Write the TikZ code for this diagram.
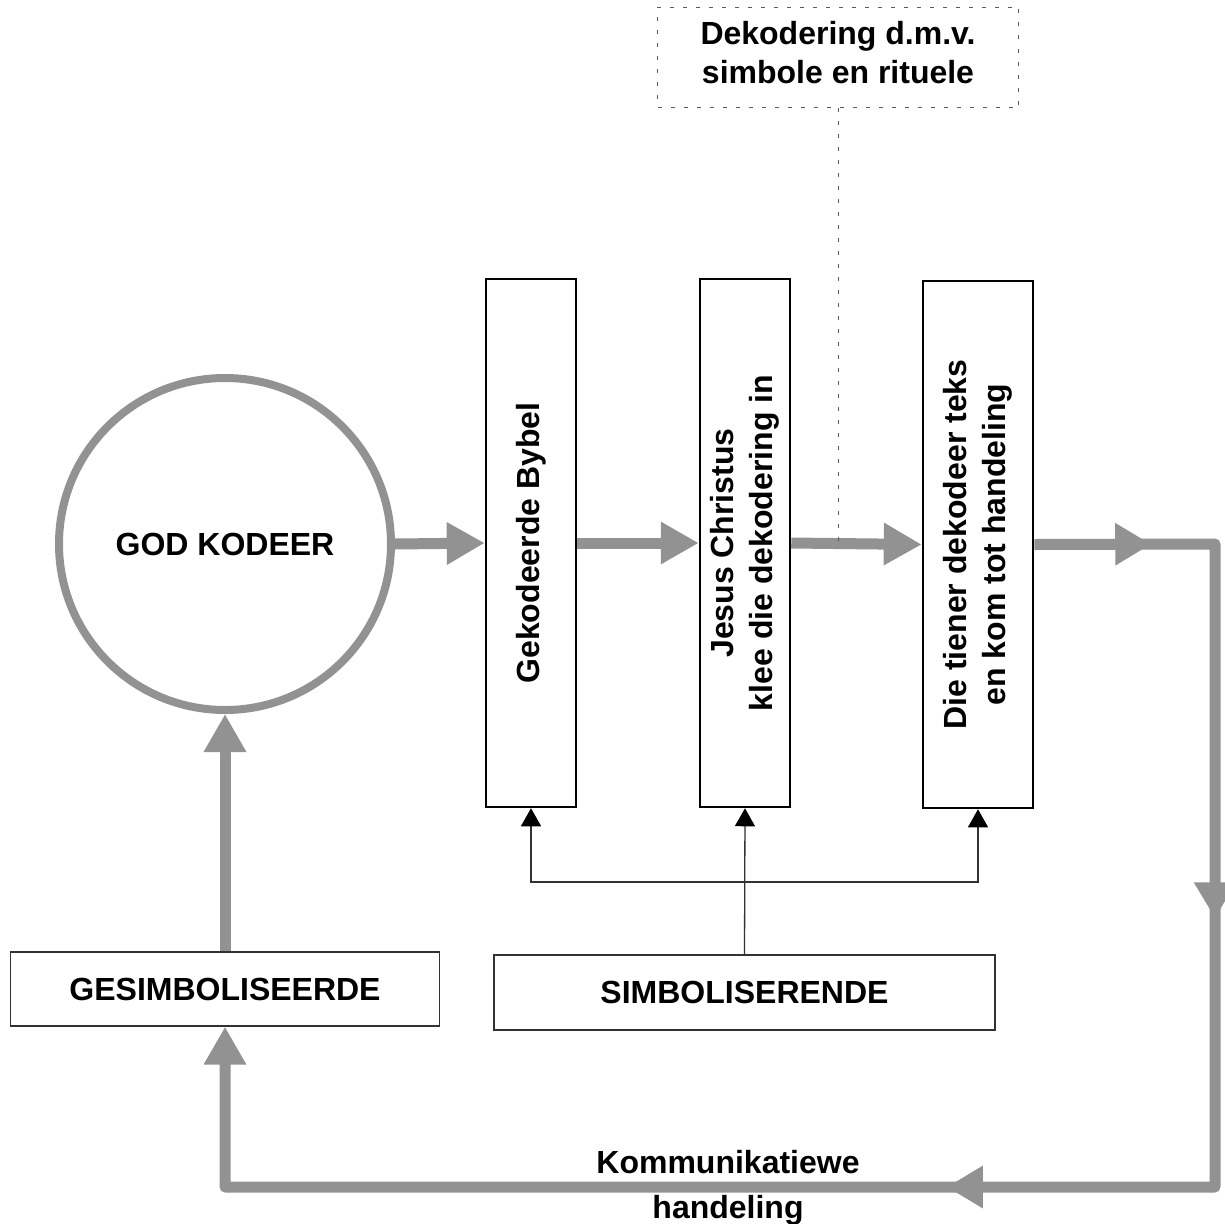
\documentclass[tikz,border=0pt]{standalone}
\usepackage{fontspec}
\setmainfont{Liberation Sans}
\usetikzlibrary{arrows.meta,decorations.markings}
\definecolor{ag}{RGB}{146,146,146}
\definecolor{tl}{RGB}{50,50,50}
\begin{document}
\begin{tikzpicture}[x=1pt,y=-1pt,
  lbl/.style={font=\bfseries\fontsize{32}{38.5}\selectfont, align=center},
  vbox/.style={draw=black, line width=2.5pt, minimum width=90pt, minimum height=528pt, inner sep=0pt},
  hbox/.style={draw=tl, line width=1.3pt, inner sep=0pt, lbl},
  garrow/.style={draw=ag, line width=11pt, -{Triangle[length=38pt,width=40pt]}},
  tarrow/.style={draw=tl, line width=1.3pt, -{Triangle[length=18pt,width=20pt,color=black]}},
  dotline/.style={draw=tl!80, line width=1pt, dash pattern=on 4pt off 9pt},
  midtip/.style={decoration={markings,
      mark=at position 117pt with {\arrow[ag]{Triangle[length=36pt,width=40pt]}},
      mark=at position 555pt with {\arrow[ag]{Triangle[length=36pt,width=40pt]}},
      mark=at position 1092pt with {\arrow[ag]{Triangle[length=36pt,width=40pt]}}},
    postaction={decorate}}
]
\useasboundingbox (0,0) rectangle (1225,1223);

% main nodes
\node[circle, draw=ag, line width=8pt, minimum size=332pt, lbl] (god) at (225,544) {GOD KODEER};
\node[vbox] (b1) at (531,543) {};
\node[lbl, rotate=90] (t1) at (b1) {Gekodeerde Bybel};
\node[vbox] (b2) at (745,543) {};
\node[lbl, rotate=90] (t2) at (b2) {Jesus Christus\\klee die dekodering in};
\node[vbox, minimum width=110pt, minimum height=527pt] (b3) at (978,544.5) {};
\node[lbl, rotate=90] (t3) at (b3) {Die tiener dekodeer teks\\en kom tot handeling};

\node[hbox, minimum width=429pt, minimum height=74pt] (gs) at (225,989) {GESIMBOLISEERDE};
\node[hbox, minimum width=501pt, minimum height=75pt] (sb) at (744.5,992.5) {SIMBOLISERENDE};

\node[dotline, lbl, minimum width=361pt, minimum height=100pt, inner sep=0pt, text depth=10pt] (db) at (838,57.5) {Dekodering d.m.v.\\simbole en rituele};

\node[lbl, font=\bfseries\fontsize{32}{45}\selectfont, anchor=base] (kh) at (728,1218) {Kommunikatiewe\\handeling};

% coordinates
\coordinate (c1) at (1215,544);
\coordinate (c2) at (1215,1187);
\coordinate (c3) at (225,1187);
\coordinate (j) at (745,882);
\coordinate (dend) at (838,544);

% gray arrows
\draw[garrow] (god.east) -- (b1.west);
\draw[garrow] (b1.east) -- (b2.west);
\draw[garrow] (b2.east) -- (b3.west);
\draw[garrow] (gs.north) -- (god.south);
\draw[garrow, line join=round, midtip] (b3.east) -- (c1) -- (c2) -- (c3) -- (gs.south);

% thin connectors
\draw[tarrow] (sb.north) -- (b2.south);
\draw[tarrow] (j) -| (b1.south);
\draw[tarrow] (j) -| (b3.south);

% dotted line
\draw[dotline] (db.south) -- (dend);
\end{tikzpicture}
\end{document}
